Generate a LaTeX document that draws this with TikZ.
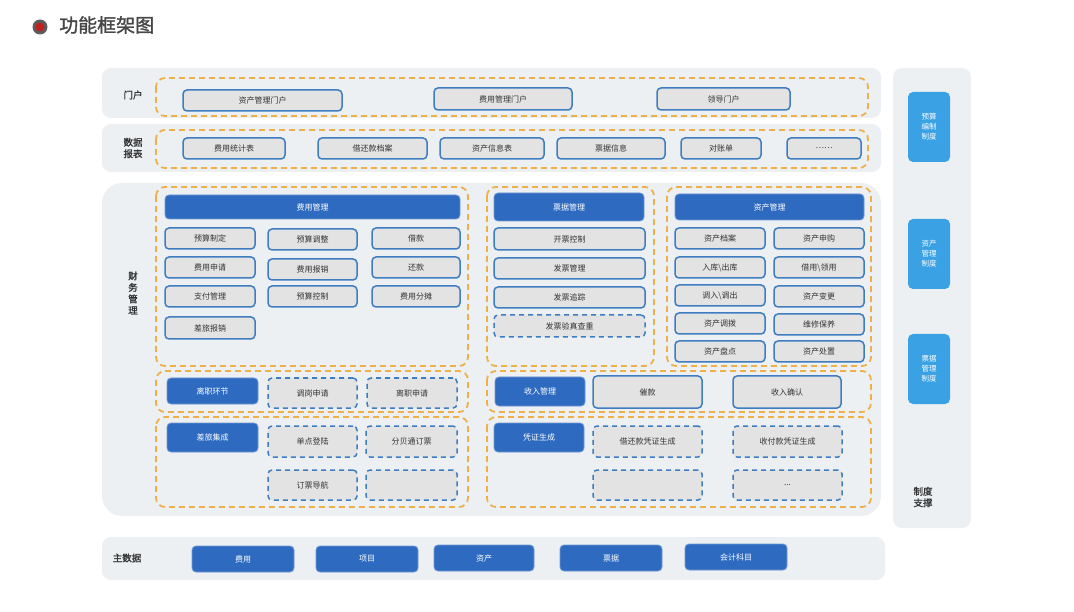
\documentclass[tikz,border=0pt]{standalone}
\usepackage{fontspec}
\setmainfont{Noto Sans CJK SC}
\newfontfamily\cjk{Noto Sans CJK SC}
\newfontfamily\cjkb[FakeBold=1.5]{Noto Sans CJK SC}
\definecolor{panelgray}{HTML}{EDF0F3}
\definecolor{orangeD}{HTML}{EDB04A}
\definecolor{itemblue}{HTML}{3F7DC0}
\definecolor{itemgray}{HTML}{E3E3E3}
\definecolor{hdrblue}{HTML}{2E6BC0}
\definecolor{polblue}{HTML}{3AA2E4}
\definecolor{txtgray}{HTML}{333333}
\definecolor{dotred}{HTML}{C0201E}
\tikzset{
  panel/.style={fill=panelgray, draw=none, rounded corners=9pt},
  grp/.style={draw=orangeD, line width=1.8pt, dash pattern=on 6pt off 4pt, rounded corners=9pt, fill=none},
  item/.style={draw=itemblue, fill=itemgray, line width=1.5pt, rounded corners=4pt, inner sep=0pt, text=txtgray, font=\cjk\fontsize{8}{9}\selectfont},
  ditem/.style={item, dash pattern=on 5pt off 4pt},
  hdr/.style={fill=hdrblue, draw=hdrblue!70!white, line width=0.8pt, rounded corners=4pt, inner sep=0pt, text=white, font=\cjk\fontsize{8}{9}\selectfont},
  pol/.style={fill=polblue, draw=none, rounded corners=5pt, inner sep=0pt, text=white, align=center, font=\cjk\fontsize{7.5}{10}\selectfont},
  lbl/.style={text=txtgray, align=center, inner sep=0pt, font=\cjkb\fontsize{9.5}{11.5}\selectfont},
}
\newcommand\bx[7]{%
  \pgfmathsetmacro\bxcx{(#3+#5)/2}\pgfmathsetmacro\bxcy{(#4+#6)/2}%
  \pgfmathsetmacro\bxw{#5-#3}\pgfmathsetmacro\bxh{#6-#4}%
  \node[#1, minimum width=\bxw pt, minimum height=\bxh pt] (#2) at (\bxcx,\bxcy) {#7};}
\begin{document}
\begin{tikzpicture}[x=1pt,y=-1pt]
\useasboundingbox (0,0) rectangle (1074,612);
\fill[white] (0,0) rectangle (1074,612);
% title
\fill[txtgray!80] (40,27) circle (7.5);
\fill[dotred] (40,27) circle (4.5);
\node[anchor=west, inner sep=0pt, text=txtgray!90, font=\cjkb\fontsize{19}{22}\selectfont] (title) at (59,25) {功能框架图};
% panels
\fill[panel] (102,68) rectangle (881,118);
\fill[panel] (102,124) rectangle (881,172);
\fill[panel, rounded corners=20pt] (102,183) rectangle (881,516);
\fill[panel] (102,537) rectangle (885,580);
\fill[panel] (893,68) rectangle (971,528);
% labels
\node[lbl] (lmenhu) at (133,95) {门户};
\node[lbl] (lshuju) at (133,148) {数据\\报表};
\node[lbl] (lcaiwu) at (133,293) {财\\务\\管\\理};
\node[lbl] (lzhu) at (127,558) {主数据};
\node[lbl] (lzhidu) at (923,497) {制度\\支撑};
% orange dashed groups
\draw[grp] (156,78) rectangle (868,116);
\draw[grp] (156,130) rectangle (868,168);
\draw[grp] (156,187) rectangle (468,366);
\draw[grp] (487,187) rectangle (654,366);
\draw[grp] (667,187) rectangle (871,366);
\draw[grp] (156,371) rectangle (468,412);
\draw[grp] (156,417) rectangle (468,507);
\draw[grp] (487,371) rectangle (871,412);
\draw[grp] (487,417) rectangle (871,507);
% portal
\bx{item}{p1}{183}{90}{342}{111}{资产管理门户}
\bx{item}{p2}{434}{88}{572}{110}{费用管理门户}
\bx{item}{p3}{657}{88}{790}{110}{领导门户}
% reports
\bx{item}{r1}{183}{138}{285}{159}{费用统计表}
\bx{item}{r2}{318}{138}{427}{159}{借还款档案}
\bx{item}{r3}{440}{138}{544}{159}{资产信息表}
\bx{item}{r4}{557}{138}{665}{159}{票据信息}
\bx{item}{r5}{681}{138}{761}{159}{对账单}
\bx{item}{r6}{787}{138}{861}{159}{……}
% fee management
\bx{hdr}{fh}{165}{195}{460}{219}{费用管理}
\bx{item}{f11}{165}{228}{255}{249}{预算制定}
\bx{item}{f12}{268}{229}{357}{250}{预算调整}
\bx{item}{f13}{372}{228}{460}{249}{借款}
\bx{item}{f21}{165}{257}{255}{278}{费用申请}
\bx{item}{f22}{268}{259}{357}{280}{费用报销}
\bx{item}{f23}{372}{257}{460}{278}{还款}
\bx{item}{f31}{165}{286}{255}{307}{支付管理}
\bx{item}{f32}{268}{286}{357}{307}{预算控制}
\bx{item}{f33}{372}{286}{460}{307}{费用分摊}
\bx{item}{f41}{165}{317}{255}{339}{差旅报销}
% invoice management
\bx{hdr}{ih}{494}{193}{644}{221}{票据管理}
\bx{item}{i1}{494}{228}{645}{250}{开票控制}
\bx{item}{i2}{494}{258}{645}{279}{发票管理}
\bx{item}{i3}{494}{287}{645}{308}{发票追踪}
\bx{ditem}{i4}{494}{315}{645}{337}{发票验真查重}
% asset management
\bx{hdr}{ah}{675}{194}{864}{220}{资产管理}
\bx{item}{a11}{675}{228}{765}{249}{资产档案}
\bx{item}{a12}{774}{228}{864}{249}{资产申购}
\bx{item}{a21}{675}{257}{765}{278}{入库\textbackslash 出库}
\bx{item}{a22}{774}{257}{864}{278}{借用\textbackslash 领用}
\bx{item}{a31}{675}{285}{765}{306}{调入\textbackslash 调出}
\bx{item}{a32}{774}{286}{864}{307}{资产变更}
\bx{item}{a41}{675}{313}{765}{334}{资产调拨}
\bx{item}{a42}{774}{314}{864}{335}{维修保养}
\bx{item}{a51}{675}{341}{765}{362}{资产盘点}
\bx{item}{a52}{774}{341}{864}{362}{资产处置}
% leave
\bx{hdr}{lh}{167}{378}{258}{404}{离职环节}
\bx{ditem}{l1}{268}{378}{357}{408}{调岗申请}
\bx{ditem}{l2}{367}{378}{457}{408}{离职申请}
% travel integration
\bx{hdr}{th}{167}{423}{258}{452}{差旅集成}
\bx{ditem}{t1}{268}{426}{357}{457}{单点登陆}
\bx{ditem}{t2}{366}{426}{457}{457}{分贝通订票}
\bx{ditem}{t3}{268}{470}{357}{500}{订票导航}
\bx{ditem}{t4}{366}{470}{457}{500}{}
% income
\bx{hdr}{sh}{495}{377}{585}{406}{收入管理}
\bx{item}{s1}{593}{376}{702}{408}{催款}
\bx{item}{s2}{733}{376}{841}{408}{收入确认}
% voucher
\bx{hdr}{vh}{494}{423}{584}{452}{凭证生成}
\bx{ditem}{v1}{593}{426}{702}{457}{借还款凭证生成}
\bx{ditem}{v2}{733}{426}{842}{457}{收付款凭证生成}
\bx{ditem}{v3}{593}{470}{702}{500}{}
\bx{ditem}{v4}{733}{470}{842}{500}{...}
% policies
\bx{pol}{z1}{908}{92}{950}{162}{预算\\编制\\制度}
\bx{pol}{z2}{908}{219}{950}{289}{资产\\管理\\制度}
\bx{pol}{z3}{908}{334}{950}{404}{票据\\管理\\制度}
% master data
\bx{hdr}{m1}{192}{546}{294}{572}{费用}
\bx{hdr}{m2}{316}{546}{418}{572}{项目}
\bx{hdr}{m3}{434}{545}{534}{571}{资产}
\bx{hdr}{m4}{560}{545}{662}{571}{票据}
\bx{hdr}{m5}{685}{544}{787}{570}{会计科目}
\end{tikzpicture}
\end{document}
